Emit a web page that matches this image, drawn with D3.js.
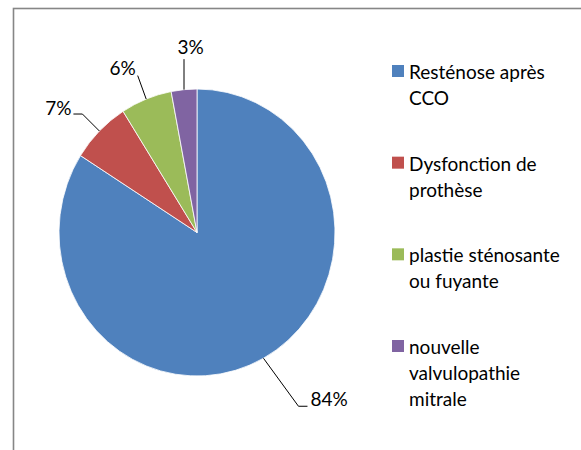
<!DOCTYPE html>
<html>
<head>
<meta charset="utf-8">
<script src="https://cdn.jsdelivr.net/npm/d3@7"></script>
<style>
  html, body { margin: 0; padding: 0; background: #fff; }
  svg { display: block; }
  text { font-family: Lato, "Open Sans", sans-serif; fill: #000; }
</style>
</head>
<body>
<svg id="chart" width="581" height="450"></svg>
<script>
// ---- data ----
const categories = ["Resténose après CCO", "Dysfonction de prothèse", "plastie sténosante ou fuyante", "nouvelle valvulopathie mitrale"];
const legendLines = [["Resténose après", "CCO"], ["Dysfonction de", "prothèse"], ["plastie sténosante", "ou fuyante"], ["nouvelle", "valvulopathie", "mitrale"]];
const values = [84, 7, 6, 3];
const valueLabels = ["84%", "7%", "6%", "3%"];
const colors = ["#4F81BD", "#C0504D", "#9BBB59", "#8064A2"];

// ---- layout (not data) ----
const W = 581, H = 450;
const cx = 197, cy = 232.5, rx = 138, ry = 143.5;
// leader layout per label: elbow offset from edge, tail length, text offset, anchor
const leaderLayout = [
  { ex: 35, ey: 48, tail: 9, tx: 3, ty: 0, anchor: "start" },
  { ex: -17, ey: -17, tail: -9, tx: -2, ty: 1, anchor: "end" },
  { ex: -8.5, ey: -23.5, tail: 0, tx: -2, ty: -1, anchor: "end" },
  { ex: 0, ey: -30.5, tail: 0, tx: 6.5, ty: -5, anchor: "middle" }
];

const svg = d3.select("#chart");

// chart frame (extends beyond the picture on right/bottom)
svg.append("rect")
  .attr("x", 13.5).attr("y", 8.5)
  .attr("width", 700).attr("height", 600)
  .attr("fill", "none")
  .attr("stroke", "#868686")
  .attr("stroke-width", 1.6);

const pie = d3.pie().sort(null).value(d => d);
const arcs = pie(values);
const arc = d3.arc().innerRadius(0).outerRadius(rx);
const color = d3.scaleOrdinal().domain(categories).range(colors);

const gPie = svg.append("g")
  .attr("transform", `translate(${cx},${cy}) scale(1,${ry / rx})`);

gPie.selectAll("path")
  .data(arcs)
  .join("path")
  .attr("d", arc)
  .attr("fill", (d, i) => color(categories[i]))
  .attr("stroke", "#ffffff")
  .attr("stroke-width", 0.8)
  .attr("vector-effect", "non-scaling-stroke");

// data labels with leader lines
const gLab = svg.append("g");
arcs.forEach((d, i) => {
  const a = (d.startAngle + d.endAngle) / 2;
  const x0 = cx + rx * Math.sin(a), y0 = cy - ry * Math.cos(a);
  const L = leaderLayout[i];
  const x1 = x0 + L.ex, y1 = y0 + L.ey;
  const x2 = x1 + L.tail, y2 = y1;
  gLab.append("polyline")
    .attr("points", [[x0, y0], [x1, y1], [x2, y2]].map(p => p.join(",")).join(" "))
    .attr("fill", "none")
    .attr("stroke", "#000")
    .attr("stroke-width", 1);
  gLab.append("text")
    .attr("x", x2 + L.tx)
    .attr("y", y2 + L.ty)
    .attr("text-anchor", L.anchor)
    .attr("font-size", 19)
    .text(valueLabels[i]);
});

// legend
const legendY = d3.scalePoint().domain(categories).range([79, 354]);
const gLeg = svg.append("g");
categories.forEach((c, i) => {
  const by = legendY(c);
  gLeg.append("rect")
    .attr("x", 392).attr("y", by - 14)
    .attr("width", 12).attr("height", 12)
    .attr("fill", color(c));
  const t = gLeg.append("text")
    .attr("x", 409).attr("y", by)
    .attr("font-size", 19);
  legendLines[i].forEach((ln, j) => {
    t.append("tspan").attr("x", 409).attr("y", by + j * 26).text(ln);
  });
});
</script>
</body>
</html>
